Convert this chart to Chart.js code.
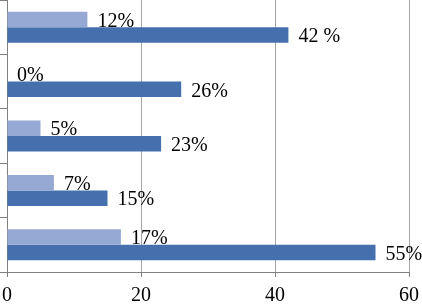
<!DOCTYPE html>
<html>
<head>
<meta charset="utf-8">
<script src="https://cdn.jsdelivr.net/npm/chart.js@4/dist/chart.umd.min.js"></script>
<style>
  html, body { margin: 0; padding: 0; background: #fff; }
  #wrap { width: 422px; height: 304px; }
</style>
</head>
<body>
<div id="wrap"><canvas id="myChart"></canvas></div>
<script>
var categories = ['Item 1', 'Item 2', 'Item 3', 'Item 4', 'Item 5'];
var lightValues = [12, 0, 5, 7, 17];
var darkValues = [42, 26, 23, 15, 55];
var lightLabels = ['12%', '0%', '5%', '7%', '17%'];
var darkLabels = ['42 %', '26%', '23%', '15%', '55%'];
var xTicks = [0, 20, 40, 60];

var serif = '"Liberation Serif", "Times New Roman", serif';

// draws the percent text just right of each bar
var barLabels = {
	id: 'barLabels',
	afterDatasetsDraw: function(chart){
		var ctx = chart.ctx;
		ctx.save();
		ctx.font = '20px ' + serif;
		ctx.fillStyle = '#000';
		ctx.textAlign = 'left';
		ctx.textBaseline = 'middle';
		chart.data.datasets.forEach(function(ds, i){
			var meta = chart.getDatasetMeta(i);
			meta.data.forEach(function(bar, j){
				ctx.fillText(ds.pctLabels[j], bar.x + 10, bar.y + 2);
			});
		});
		ctx.restore();
	}
};

var chartdata = {
	labels: categories,
	datasets: [
		{
			label: 'Series 1',
			backgroundColor: '#95a9d4',
			data: lightValues,
			pctLabels: lightLabels
		},
		{
			label: 'Series 2',
			backgroundColor: '#4570ad',
			data: darkValues,
			pctLabels: darkLabels
		}
	]
};

var ctx = document.getElementById('myChart');

var barGraph = new Chart(ctx, {
	type: 'bar',
	data: chartdata,
	plugins: [barLabels],
	options: {
		indexAxis: 'y',
		responsive: true,
		maintainAspectRatio: false,
		animation: false,
		layout: { padding: { top: 0, right: 13, left: 0, bottom: 0 } },
		datasets: { bar: { barPercentage: 1, categoryPercentage: 0.57 } },
		plugins: { legend: { display: false }, tooltip: { enabled: false } },
		scales: {
			x: {
				min: 0,
				max: 60,
				afterBuildTicks: function(scale){
					scale.ticks = xTicks.map(function(v){ return { value: v }; });
				},
				afterFit: function(scale){
					scale.height = 32;
					scale.paddingLeft = 0;
					scale.paddingRight = 0;
				},
				grid: { color: '#a6a6a6', tickLength: 5, tickColor: '#808080' },
				border: { color: '#808080' },
				ticks: { color: '#000', padding: 7, maxRotation: 0, font: { family: serif, size: 20 } }
			},
			y: {
				afterFit: function(scale){ scale.width = 7; },
				ticks: { display: false },
				grid: { drawOnChartArea: false, tickLength: 7, color: '#808080' },
				border: { color: '#808080' }
			}
		}
	}
});
</script>
</body>
</html>
